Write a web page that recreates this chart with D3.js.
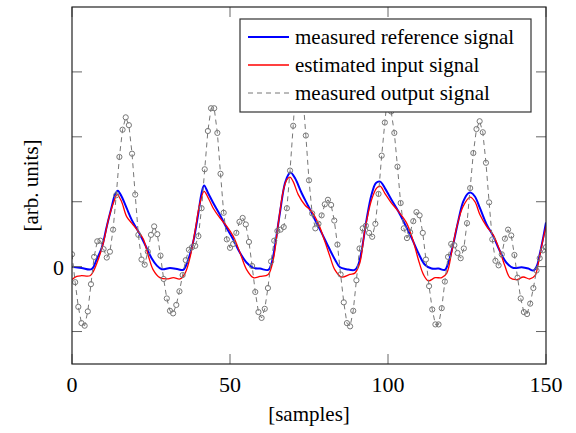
<!DOCTYPE html>
<html>
<head>
<meta charset="utf-8">
<script src="https://cdn.jsdelivr.net/npm/d3@7"></script>
<style>
  body { margin: 0; background: #fff; }
</style>
</head>
<body>
<div id="viz"></div>
<script>
// measured reference signal (sample, value)
const refSamples = [0, 3, 6.2, 7.8, 9.4, 11, 12.6, 13.6, 14.5, 15.7, 17.3, 18.9, 21, 23.1, 25.2, 26.8, 28.4, 31, 33.6, 35.2,
  36.8, 38.4, 40, 41, 41.8, 43.1, 44.7, 46.8, 49, 51, 53.2, 55.3, 57.4, 59.5, 62.1, 63.2, 64.2, 65.8, 67.4, 68.5,
  69.2, 70.6, 72.7, 74.8, 76.9, 79, 81.1, 83.2, 84.8, 86.9, 89.5, 90.6, 91.7, 93.2, 94.8, 96.2, 97.5, 99, 101.1, 103.3,
  105.4, 107.5, 109.6, 111.7, 113.8, 116, 118, 119.1, 120.7, 122.3, 123.8, 125.4, 126.2, 127.5, 129.1, 131.2, 133.3, 135.4, 137.5, 139.7,
  142.3, 144.4, 146, 147.1, 148.1, 149.2, 150];
const refValues = [0.00, -0.02, -0.04, 0.11, 0.29, 0.62, 0.93, 1.11, 1.17, 1.08, 0.90, 0.72, 0.54, 0.34, 0.13, 0.02, -0.04, -0.02, -0.04, -0.05,
  0.11, 0.39, 0.83, 1.13, 1.25, 1.13, 0.98, 0.80, 0.59, 0.42, 0.21, 0.06, -0.02, -0.03, -0.05, 0.06, 0.31, 0.83, 1.29, 1.42,
  1.45, 1.36, 1.13, 0.93, 0.72, 0.52, 0.31, 0.11, -0.01, -0.04, -0.05, 0.03, 0.26, 0.72, 1.11, 1.29, 1.31, 1.21, 1.03, 0.85,
  0.65, 0.44, 0.21, 0.03, -0.03, -0.03, -0.05, 0.06, 0.36, 0.72, 1.00, 1.13, 1.14, 1.08, 0.90, 0.65, 0.47, 0.24, 0.06, -0.02,
  -0.01, -0.03, -0.06, 0.01, 0.21, 0.47, 0.68];

// estimated input signal
const estSamples = [0, 1.5, 3, 5.7, 6.8, 8.3, 9.9, 11.5, 13.1, 14.3, 15.7, 17.3, 18.9, 21, 22.6, 24.2, 25.7, 27.8, 30, 32.1,
  34.2, 35.8, 37.3, 38.9, 40.5, 41.8, 43.1, 44.7, 46.8, 49, 51, 53.2, 55.3, 57.4, 59.5, 62.1, 63.7, 65.3, 66.9, 68,
  69, 70, 71.6, 73.7, 75.8, 77.9, 80, 81.6, 83.2, 85.3, 87.9, 89.5, 91.1, 92.7, 94.8, 96.4, 97.5, 99, 101.1, 103.3,
  105.9, 108, 109.6, 111.2, 112.8, 114.9, 117, 118.6, 120.2, 121.8, 123.8, 126, 127.5, 129.1, 131.2, 133.3, 135.4, 137, 138.6, 140.7,
  142.8, 144.9, 146.5, 147.6, 148.6, 150];
const estValues = [-0.20, -0.15, -0.14, -0.14, -0.07, 0.11, 0.36, 0.72, 0.98, 1.11, 1.00, 0.77, 0.67, 0.54, 0.42, 0.16, -0.05, -0.17, -0.19, -0.17,
  -0.19, -0.10, 0.13, 0.54, 0.98, 1.16, 1.06, 0.90, 0.75, 0.62, 0.47, 0.21, -0.05, -0.17, -0.15, -0.12, 0.11, 0.67, 1.18, 1.34,
  1.38, 1.31, 1.11, 0.95, 0.85, 0.67, 0.39, 0.16, -0.05, -0.16, -0.12, -0.10, 0.06, 0.57, 1.03, 1.21, 1.24, 1.13, 0.98, 0.85,
  0.67, 0.39, 0.11, -0.12, -0.22, -0.17, -0.17, -0.10, 0.24, 0.62, 0.93, 1.07, 1.00, 0.80, 0.62, 0.49, 0.24, 0.01, -0.17, -0.20,
  -0.16, -0.19, -0.14, 0.06, 0.31, 0.62];

// measured output signal, one value per sample 0..150
const outValues = [0.19, -0.24, -0.62, -0.87, -0.91, -0.69, -0.27, 0.15, 0.39, 0.40,
  0.27, 0.14, 0.23, 0.57, 1.10, 1.69, 2.11, 2.30, 2.18, 1.74,
  1.11, 0.49, 0.11, 0.03, 0.23, 0.49, 0.62, 0.50, 0.17, -0.19,
  -0.49, -0.68, -0.72, -0.59, -0.38, -0.13, 0.10, 0.26, 0.30, 0.32,
  0.47, 0.90, 1.50, 2.09, 2.44, 2.44, 2.06, 1.43, 0.83, 0.42,
  0.29, 0.35, 0.52, 0.69, 0.75, 0.65, 0.38, 0.01, -0.39, -0.70,
  -0.79, -0.65, -0.33, 0.08, 0.40, 0.55, 0.57, 0.61, 0.90, 1.48,
  2.17, 2.90, 3.05, 2.67, 2.02, 1.33, 0.82, 0.59, 0.66, 0.79,
  0.96, 1.03, 0.95, 0.71, 0.34, -0.12, -0.55, -0.87, -0.92, -0.68,
  -0.21, 0.28, 0.59, 0.63, 0.52, 0.46, 0.66, 1.12, 1.71, 2.22,
  2.70, 2.39, 2.06, 1.54, 0.98, 0.59, 0.44, 0.53, 0.70, 0.84,
  0.79, 0.52, 0.11, -0.30, -0.66, -0.89, -0.89, -0.64, -0.23, 0.15,
  0.35, 0.33, 0.21, 0.13, 0.28, 0.67, 1.21, 1.75, 2.12, 2.24,
  2.07, 1.60, 0.99, 0.42, 0.09, 0.02, 0.19, 0.43, 0.57, 0.48,
  0.18, -0.17, -0.49, -0.70, -0.73, -0.57, -0.33, -0.06, 0.13, 0.25,
  0.30];

const xTicks = [0, 50, 100, 150];
const yTicks = [-1, 0, 1, 2, 3];
const yTickLabels = ['', '0', '', '', ''];
const legendLabels = ['measured reference signal', 'estimated input signal', 'measured output signal'];

const width = 576, height = 433;
const plotLeft = 72, plotRight = 546, plotTop = 7, plotBottom = 364;
const serif = "'Liberation Serif', 'DejaVu Serif', serif";

const svg = d3.select('#viz').append('svg')
  .attr('width', width)
  .attr('height', height)
  .attr('font-family', serif);

const x = d3.scaleLinear().domain([0, 150]).range([plotLeft, plotRight]);
const y = d3.scaleLinear().domain([-1.5, 4]).range([plotBottom, plotTop]);

svg.append('clipPath').attr('id', 'clip')
  .append('rect')
  .attr('x', plotLeft).attr('y', plotTop)
  .attr('width', plotRight - plotLeft).attr('height', plotBottom - plotTop);

const plot = svg.append('g').attr('clip-path', 'url(#clip)');

// TICKS (inside, on all four sides)
const tickLen = 10;
xTicks.forEach(t => {
  svg.append('line').attr('x1', x(t)).attr('x2', x(t))
    .attr('y1', plotBottom).attr('y2', plotBottom - tickLen)
    .attr('stroke', '#666').attr('stroke-width', 1);
  svg.append('line').attr('x1', x(t)).attr('x2', x(t))
    .attr('y1', plotTop).attr('y2', plotTop + tickLen)
    .attr('stroke', '#666').attr('stroke-width', 1);
  svg.append('text')
    .attr('x', x(t)).attr('y', plotBottom + 28)
    .attr('text-anchor', 'middle')
    .attr('font-family', serif)
    .attr('font-size', '22px')
    .text(t);
});
yTicks.forEach((t, i) => {
  svg.append('line').attr('x1', plotLeft).attr('x2', plotLeft + tickLen)
    .attr('y1', y(t)).attr('y2', y(t))
    .attr('stroke', '#666').attr('stroke-width', 1);
  svg.append('line').attr('x1', plotRight).attr('x2', plotRight - tickLen)
    .attr('y1', y(t)).attr('y2', y(t))
    .attr('stroke', '#666').attr('stroke-width', 1);
  svg.append('text')
    .attr('x', plotLeft - 8).attr('y', y(t) + 8)
    .attr('text-anchor', 'end')
    .attr('font-family', serif)
    .attr('font-size', '22px')
    .text(yTickLabels[i]);
});

// LINES
const refLine = d3.line()
  .x((d, i) => x(refSamples[i]))
  .y(d => y(d))
  .curve(d3.curveCatmullRom.alpha(0.5));
const estLine = d3.line()
  .x((d, i) => x(estSamples[i]))
  .y(d => y(d))
  .curve(d3.curveCatmullRom.alpha(0.5));
const outLine = d3.line()
  .x((d, i) => x(i))
  .y(d => y(d));

plot.append('path').datum(refValues)
  .attr('d', refLine)
  .attr('fill', 'none')
  .attr('stroke', '#0000ff')
  .attr('stroke-width', 2);

plot.append('path').datum(estValues)
  .attr('d', estLine)
  .attr('fill', 'none')
  .attr('stroke', '#ff0000')
  .attr('stroke-width', 1.3);

plot.append('path').datum(outValues)
  .attr('d', outLine)
  .attr('fill', 'none')
  .attr('stroke', '#777')
  .attr('stroke-width', 1)
  .attr('stroke-dasharray', '5,4');

plot.selectAll('circle.out').data(outValues).enter()
  .append('circle')
  .attr('class', 'out')
  .attr('cx', (d, i) => x(i))
  .attr('cy', d => y(d))
  .attr('r', 2.6)
  .attr('fill', 'none')
  .attr('stroke', '#777')
  .attr('stroke-width', 1);

// FRAME
svg.append('rect')
  .attr('x', plotLeft).attr('y', plotTop)
  .attr('width', plotRight - plotLeft).attr('height', plotBottom - plotTop)
  .attr('fill', 'none')
  .attr('stroke', '#222')
  .attr('stroke-width', 1.2);

// LEGEND
const lg = svg.append('g');
lg.append('rect')
  .attr('x', 240).attr('y', 19)
  .attr('width', 291).attr('height', 93)
  .attr('fill', '#fff')
  .attr('stroke', '#333')
  .attr('stroke-width', 1.2);
const legendStyles = [
  { color: '#0000ff', w: 2, dash: null },
  { color: '#ff0000', w: 1.3, dash: null },
  { color: '#777', w: 1, dash: '5,4' }
];
legendLabels.forEach((lab, i) => {
  const ly = 37 + i * 28;
  lg.append('line')
    .attr('x1', 248).attr('x2', 289)
    .attr('y1', ly).attr('y2', ly)
    .attr('stroke', legendStyles[i].color)
    .attr('stroke-width', legendStyles[i].w)
    .attr('stroke-dasharray', legendStyles[i].dash);
  lg.append('text')
    .attr('x', 295).attr('y', ly + 7)
    .attr('font-family', serif)
    .attr('font-size', '21px')
    .text(lab);
});

// AXIS LABELS
svg.append('text')
  .attr('x', (plotLeft + plotRight) / 2).attr('y', 421)
  .attr('text-anchor', 'middle')
  .attr('font-family', serif)
  .attr('font-size', '21px')
  .text('[samples]');

svg.append('text')
  .attr('transform', `translate(38,${(plotTop + plotBottom) / 2}) rotate(-90)`)
  .attr('text-anchor', 'middle')
  .attr('font-family', serif)
  .attr('font-size', '21px')
  .text('[arb. units]');
</script>
</body>
</html>
